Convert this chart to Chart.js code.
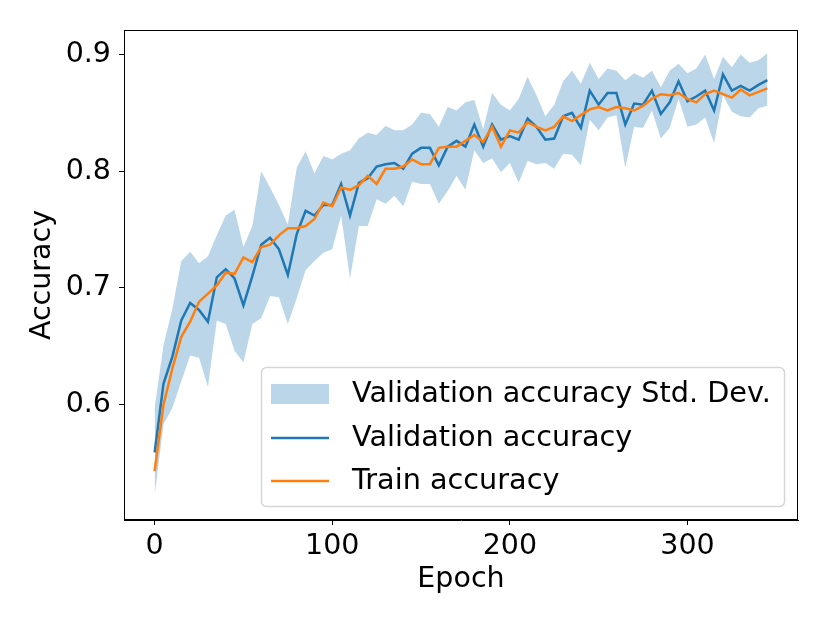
<!DOCTYPE html>
<html>
<head>
<meta charset="utf-8">
<script src="https://cdn.jsdelivr.net/npm/chart.js@4"></script>
<style>
  html, body { margin: 0; padding: 0; background: #fff; }
  #wrap { width: 830px; height: 623px; }
</style>
</head>
<body>
<div id="wrap"><canvas id="chart" width="830" height="623"></canvas></div>
<script>
// Data
const epochs = [0,5,10,15,20,25,30,35,40,45,50,55,60,65,70,75,80,85,90,95,
  100,105,110,115,120,125,130,135,140,145,150,155,160,165,170,175,180,185,190,195,
  200,205,210,215,220,225,230,235,240,245,250,255,260,265,270,275,280,285,290,295,
  300,305,310,315,320,325,330,335,340,345];

const valAcc = [0.559,0.618,0.641,0.672,0.687,0.681,0.671,0.709,0.716,0.708,
  0.685,0.710,0.737,0.743,0.733,0.711,0.746,0.766,0.762,0.771,
  0.771,0.789,0.762,0.790,0.794,0.804,0.806,0.807,0.802,0.815,
  0.820,0.820,0.805,0.821,0.826,0.821,0.840,0.821,0.840,0.827,
  0.830,0.827,0.845,0.838,0.827,0.828,0.847,0.850,0.837,0.869,
  0.857,0.867,0.867,0.840,0.858,0.857,0.869,0.849,0.859,0.877,
  0.860,0.864,0.869,0.852,0.883,0.869,0.873,0.869,0.874,0.878];

const trainAcc = [0.543,0.600,0.631,0.658,0.671,0.688,0.695,0.702,0.713,0.712,
  0.726,0.722,0.735,0.737,0.745,0.751,0.751,0.753,0.759,0.773,
  0.770,0.786,0.784,0.788,0.796,0.789,0.802,0.802,0.804,0.810,
  0.806,0.806,0.820,0.821,0.821,0.826,0.831,0.825,0.838,0.821,
  0.835,0.833,0.842,0.838,0.835,0.838,0.847,0.843,0.848,0.853,
  0.855,0.852,0.855,0.854,0.852,0.856,0.862,0.866,0.865,0.867,
  0.862,0.859,0.866,0.869,0.866,0.863,0.870,0.865,0.868,0.871];

const valUpper = [0.597,0.651,0.682,0.723,0.731,0.721,0.727,0.745,0.762,0.767,
  0.735,0.753,0.800,0.786,0.771,0.754,0.803,0.817,0.798,0.813,
  0.810,0.815,0.818,0.828,0.833,0.831,0.839,0.835,0.835,0.840,
  0.850,0.849,0.838,0.855,0.852,0.859,0.861,0.836,0.867,0.857,
  0.852,0.862,0.881,0.865,0.847,0.857,0.877,0.886,0.875,0.893,
  0.879,0.888,0.886,0.878,0.884,0.880,0.886,0.872,0.886,0.892,
  0.884,0.888,0.900,0.879,0.898,0.889,0.900,0.893,0.895,0.901];

const valLower = [0.522,0.583,0.597,0.620,0.642,0.640,0.615,0.672,0.669,0.646,
  0.636,0.669,0.674,0.693,0.692,0.669,0.691,0.715,0.723,0.730,
  0.733,0.762,0.708,0.753,0.753,0.776,0.772,0.779,0.770,0.791,
  0.789,0.789,0.772,0.783,0.796,0.784,0.818,0.807,0.811,0.799,
  0.807,0.790,0.809,0.806,0.807,0.802,0.815,0.814,0.805,0.844,
  0.835,0.846,0.848,0.803,0.838,0.837,0.852,0.828,0.837,0.862,
  0.838,0.840,0.846,0.824,0.865,0.851,0.847,0.846,0.854,0.856];

const xTicks = [0, 100, 200, 300];
const yTicks = [0.6, 0.7, 0.8, 0.9];

const BLUE = "#1f77b4";
const ORANGE = "#ff7f0e";
const BAND = "rgba(31,119,180,0.3)";
const FONT = { family: "'DejaVu Sans'", size: 28.5 };

Chart.defaults.font.family = "'DejaVu Sans'";
Chart.defaults.color = "#000";

const pts = arr => arr.map((v, i) => ({ x: epochs[i], y: v }));

// axes frame + legend drawn inside the plot, matplotlib style
const frameAndLegend = {
  id: "frameAndLegend",
  afterDraw(chart) {
    const { ctx, chartArea: a } = chart;
    ctx.save();
    ctx.strokeStyle = "#000";
    ctx.lineWidth = 1;
    ctx.strokeRect(a.left + 0.5, a.top + 0.5, a.right - a.left - 1, a.bottom - a.top - 1);

    // legend box
    const bx = 261, by = 367, bw = 523, bh = 139, r = 5;
    ctx.beginPath();
    ctx.roundRect(bx + 0.5, by + 0.5, bw, bh, r);
    ctx.fillStyle = "rgba(255,255,255,0.8)";
    ctx.fill();
    ctx.strokeStyle = "rgba(204,204,204,0.8)";
    ctx.lineWidth = 1.5;
    ctx.stroke();

    const ds = chart.data.datasets;
    const rows = [
      { label: ds[1].label, type: "patch", color: BAND, y: 394 },
      { label: ds[2].label, type: "line", color: BLUE, y: 438 },
      { label: ds[3].label, type: "line", color: ORANGE, y: 481 }
    ];
    ctx.font = "28.7px 'DejaVu Sans'";
    ctx.textBaseline = "middle";
    ctx.textAlign = "left";
    rows.forEach(row => {
      if (row.type === "patch") {
        ctx.fillStyle = row.color;
        ctx.fillRect(271, row.y - 10, 58, 20);
      } else {
        ctx.strokeStyle = row.color;
        ctx.lineWidth = 2.5;
        ctx.beginPath();
        ctx.moveTo(271, row.y);
        ctx.lineTo(329, row.y);
        ctx.stroke();
      }
      ctx.fillStyle = "#000";
      ctx.fillText(row.label, 352, row.y + 1);
    });
    ctx.restore();
  }
};

new Chart(document.getElementById("chart"), {
  type: "line",
  data: {
    datasets: [
      {
        label: "lower",
        data: pts(valLower),
        borderWidth: 0,
        pointRadius: 0,
        fill: false,
        order: 3
      },
      {
        label: "Validation accuracy Std. Dev.",
        data: pts(valUpper),
        borderWidth: 0,
        pointRadius: 0,
        backgroundColor: BAND,
        fill: "-1",
        order: 3
      },
      {
        label: "Validation accuracy",
        data: pts(valAcc),
        borderColor: BLUE,
        borderWidth: 2.5,
        pointRadius: 0,
        fill: false,
        tension: 0,
        order: 2
      },
      {
        label: "Train accuracy",
        data: pts(trainAcc),
        borderColor: ORANGE,
        borderWidth: 2.5,
        pointRadius: 0,
        fill: false,
        tension: 0,
        order: 1
      }
    ]
  },
  options: {
    responsive: false,
    animation: false,
    devicePixelRatio: 1,
    layout: { padding: { top: 30, right: 32, left: 0, bottom: 0 } },
    plugins: {
      legend: { display: false },
      tooltip: { enabled: false },
      filler: { propagate: false }
    },
    scales: {
      x: {
        type: "linear",
        min: -17.25,
        max: 362.25,
        afterBuildTicks: axis => { axis.ticks = xTicks.map(v => ({ value: v })); },
        afterFit: scale => { scale.height = 103; },
        ticks: { font: FONT, color: "#000", padding: 4, maxRotation: 0, autoSkip: false,
                 callback: v => String(v) },
        grid: { drawOnChartArea: false, drawTicks: true, tickLength: 5, tickColor: "#000", tickWidth: 1 },
        border: { display: true, color: "#000", width: 1 },
        title: { display: true, text: "Epoch", font: FONT, color: "#000", padding: { bottom: 26 } }
      },
      y: {
        type: "linear",
        min: 0.501,
        max: 0.921,
        afterBuildTicks: axis => { axis.ticks = yTicks.map(v => ({ value: v })); },
        afterFit: scale => { scale.width = 124; },
        ticks: { font: FONT, color: "#000", padding: 8, autoSkip: false,
                 callback: v => v.toFixed(1) },
        grid: { drawOnChartArea: false, drawTicks: true, tickLength: 5, tickColor: "#000", tickWidth: 1 },
        border: { display: true, color: "#000", width: 1 },
        title: { display: true, text: "Accuracy", font: FONT, color: "#000", padding: { top: 25 } }
      }
    }
  },
  plugins: [frameAndLegend]
});
</script>
</body>
</html>
